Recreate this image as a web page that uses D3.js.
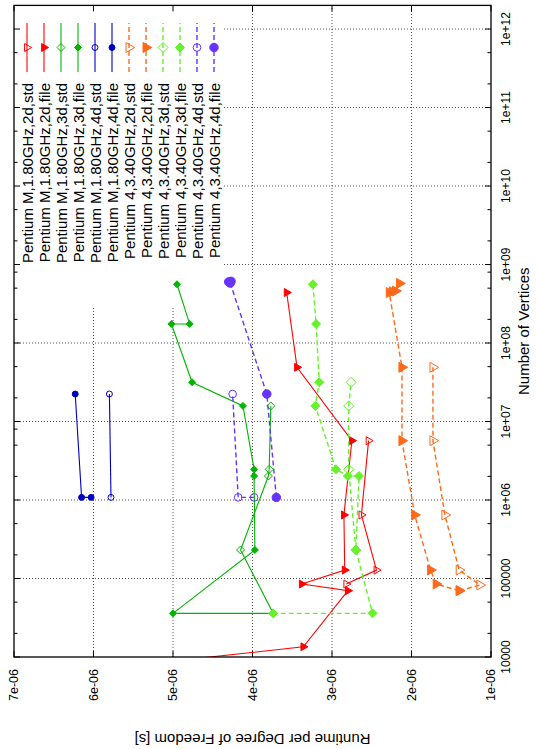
<!DOCTYPE html>
<html><head><meta charset="utf-8">
<script src="https://cdn.jsdelivr.net/npm/d3@7"></script>
<style>body{margin:0;background:#fff}svg{display:block}</style>
</head><body>
<svg id="c" width="536" height="749"></svg>
<script>
// ---------- data ----------
const seriesNames = [
  "Pentium M,1.80GHz,2d,std","Pentium M,1.80GHz,2d,file",
  "Pentium M,1.80GHz,3d,std","Pentium M,1.80GHz,3d,file",
  "Pentium M,1.80GHz,4d,std","Pentium M,1.80GHz,4d,file",
  "Pentium 4,3.40GHz,2d,std","Pentium 4,3.40GHz,2d,file",
  "Pentium 4,3.40GHz,3d,std","Pentium 4,3.40GHz,3d,file",
  "Pentium 4,3.40GHz,4d,std","Pentium 4,3.40GHz,4d,file"];
const seriesColors = ["#ff0000","#ff0000","#00b400","#00b400","#0000c0","#0000c0",
  "#ff6a1a","#ff6a1a","#66f22a","#66f22a","#6633ff","#6633ff"];
const seriesDashed = [false,false,false,false,false,false,true,true,true,true,true,true];
const seriesSymbols = ["triOpen","triFill","diaOpen","diaFill","cirOpen","cirFill",
  "triOpen","triFill","diaOpen","diaFill","cirOpen","cirFill"];
const seriesSizes = [4,4,4,3.5,3.5,3.5, 5,5,5,4.5,4.5,5];

const pm2dStdV = [85000,128000,645000,5.7e6];
const pm2dStdR = [2.82e-6,2.44e-6,2.63e-6,2.54e-6];
const pm2dFileV = [4225,13500,70000,85000,128000,645000,5.7e6,4.9e7,4.4e8];
const pm2dFileR = [7.9e-6,3.36e-6,2.80e-6,3.38e-6,2.84e-6,2.85e-6,2.75e-6,3.44e-6,3.57e-6];
const pm3dStdV = [36000,231000,2.02e6,2.46e6,1.58e7];
const pm3dStdR = [3.74e-6,4.15e-6,3.80e-6,3.79e-6,3.77e-6];
const pm3dFileV = [36000,36000,231000,2.02e6,2.46e6,1.58e7,3.16e7,1.75e8,1.75e8,5.6e8];
const pm3dFileR = [3.74e-6,5.00e-6,3.97e-6,3.98e-6,3.98e-6,4.12e-6,4.76e-6,5.02e-6,4.79e-6,4.95e-6];
const pm4dStdV = [1.08e6,2.24e7];
const pm4dStdR = [5.78e-6,5.80e-6];
const pm4dFileV = [1.08e6,1.08e6,2.24e7];
const pm4dFileR = [6.03e-6,6.15e-6,6.23e-6];
const p42dStdV = [70000,82600,128000,645000,5.7e6,4.9e7];
const p42dStdR = [1.40e-6,1.14e-6,1.40e-6,1.58e-6,1.73e-6,1.73e-6];
const p42dFileV = [70000,85000,128000,645000,5.7e6,4.9e7,4.4e8,4.5e8,4.6e8,5.75e8];
const p42dFileR = [1.40e-6,1.69e-6,1.76e-6,1.96e-6,2.12e-6,2.12e-6,2.28e-6,2.24e-6,2.20e-6,2.15e-6];
const p43dStdV = [231000,2.46e6,1.58e7,3.16e7];
const p43dStdR = [2.70e-6,2.79e-6,2.79e-6,2.76e-6];
const p43dFileV = [5.6e8,1.75e8,3.16e7,1.58e7,2.46e6,2.02e6,2.02e6,231000,36000,36000];
const p43dFileR = [3.24e-6,3.20e-6,3.16e-6,3.21e-6,2.95e-6,2.80e-6,2.66e-6,2.70e-6,2.49e-6,3.74e-6];
const p44dStdV = [1.08e6,1.08e6,2.24e7];
const p44dStdR = [3.98e-6,4.18e-6,4.25e-6];
const p44dFileV = [1.08e6,2.24e7,5.8e8,6.0e8,6.1e8];
const p44dFileR = [3.70e-6,3.82e-6,4.28e-6,4.30e-6,4.27e-6];

const seriesV = [pm2dStdV,pm2dFileV,pm3dStdV,pm3dFileV,pm4dStdV,pm4dFileV,
                 p42dStdV,p42dFileV,p43dStdV,p43dFileV,p44dStdV,p44dFileV];
const seriesR = [pm2dStdR,pm2dFileR,pm3dStdR,pm3dFileR,pm4dStdR,pm4dFileR,
                 p42dStdR,p42dFileR,p43dStdR,p43dFileR,p44dStdR,p44dFileR];

const vertexTicks = [1e4,1e5,1e6,1e7,1e8,1e9,1e10,1e11,1e12];
const vertexTickLabels = ["10000","100000","1e+06","1e+07","1e+08","1e+09","1e+10","1e+11","1e+12"];
const vertexExtraTicks = [8e6, 8e8];
const runtimeTicks = [7e-6,6e-6,5e-6,4e-6,3e-6,2e-6,1e-6];
const runtimeTickLabels = ["7e-06","6e-06","5e-06","4e-06","3e-06","2e-06","1e-06"];

// ---------- layout (unrotated gnuplot frame, then rotated -90deg) ----------
const W = 749, H = 536;
const plotL = 92, plotR = 743.6, plotT = 14, plotB = 491;
const FONT = "'Liberation Sans', Arial, Helvetica, sans-serif";
const x = d3.scaleLog().domain([1e4, 2e12]).range([plotL, plotR]);
const y = d3.scaleLinear().domain([1e-6, 7e-6]).range([plotB, plotT]);

const svg = d3.select("#c");
svg.append("rect").attr("width",536).attr("height",749).attr("fill","#fff");
const g = svg.append("g").attr("transform", `translate(0,${W}) rotate(-90)`);

g.append("defs").append("clipPath").attr("id","clip")
  .append("rect").attr("x",plotL).attr("y",plotT).attr("width",plotR-plotL).attr("height",plotB-plotT);

// grid
const gridG = g.append("g").attr("stroke","#555").attr("stroke-width",1).attr("stroke-dasharray","1,2");
vertexTicks.slice(1).forEach(v => {
  gridG.append("line").attr("x1",x(v)).attr("x2",x(v)).attr("y1",plotT).attr("y2",plotB);
});
runtimeTicks.slice(0,-1).slice(1).forEach(r => {
  gridG.append("line").attr("x1",plotL).attr("x2",plotR).attr("y1",y(r)).attr("y2",y(r));
});
// key area blanks the grid
g.append("rect").attr("x",441).attr("y",plotT+0.5).attr("width",plotR-441-0.5).attr("height",223-plotT).attr("fill","#fff");

// ticks
const tickG = g.append("g").attr("stroke","#000").attr("stroke-width",1);
const minorTicks = [];
for (let d = 4; d < 12; d++) { minorTicks.push(2*Math.pow(10,d), 5*Math.pow(10,d)); }
vertexExtraTicks.forEach(v => minorTicks.push(v));
vertexTicks.forEach(v => {
  tickG.append("line").attr("x1",x(v)).attr("x2",x(v)).attr("y1",plotB).attr("y2",plotB-6);
  tickG.append("line").attr("x1",x(v)).attr("x2",x(v)).attr("y1",plotT).attr("y2",plotT+6);
});
minorTicks.forEach(v => {
  tickG.append("line").attr("x1",x(v)).attr("x2",x(v)).attr("y1",plotB).attr("y2",plotB-3.5);
  tickG.append("line").attr("x1",x(v)).attr("x2",x(v)).attr("y1",plotT).attr("y2",plotT+3.5);
});
runtimeTicks.forEach(r => {
  tickG.append("line").attr("x1",plotL).attr("x2",plotL+6).attr("y1",y(r)).attr("y2",y(r));
  tickG.append("line").attr("x1",plotR).attr("x2",plotR-6).attr("y1",y(r)).attr("y2",y(r));
});

// tick labels
vertexTicks.forEach((v,i) => {
  g.append("text").attr("x",x(v)).attr("y",506).attr("text-anchor","middle")
   .attr("dominant-baseline","central").attr("font-family",FONT).attr("font-size",12)
   .text(vertexTickLabels[i]);
});
runtimeTicks.forEach((r,i) => {
  g.append("text").attr("x",80).attr("y",y(r)).attr("text-anchor","end")
   .attr("dominant-baseline","central").attr("font-family",FONT).attr("font-size",12.5)
   .text(runtimeTickLabels[i]);
});
// axis titles
g.append("text").attr("x",(plotL+plotR)/2).attr("y",523).attr("text-anchor","middle")
  .attr("dominant-baseline","central").attr("font-family",FONT).attr("font-size",15)
  .text("Number of Vertices");
g.append("text").attr("transform",`translate(10,${(plotT+plotB)/2}) rotate(-90)`)
  .attr("text-anchor","middle").attr("dominant-baseline","central")
  .attr("font-family",FONT).attr("font-size",15)
  .text("Runtime per Degree of Freedom [s]");

// markers (triangles point down in the unrotated frame)
function drawSymbol(sel, type, cx, cy, s, color) {
  const filled = type.endsWith("Fill");
  let el;
  if (type.startsWith("tri")) {
    el = sel.append("path").attr("d",`M${cx},${cy+s*1.15}L${cx+s},${cy-s*0.6}L${cx-s},${cy-s*0.6}Z`);
  } else if (type.startsWith("dia")) {
    el = sel.append("path").attr("d",`M${cx},${cy-s}L${cx+s},${cy}L${cx},${cy+s}L${cx-s},${cy}Z`);
  } else {
    el = sel.append("circle").attr("cx",cx).attr("cy",cy).attr("r",s*0.85);
  }
  el.attr("fill", filled ? color : "none").attr("stroke",color).attr("stroke-width",1);
}

const dataG = g.append("g").attr("clip-path","url(#clip)");
const line = d3.line().x(d => x(d[0])).y(d => y(d[1]));
seriesNames.forEach((name,i) => {
  const pts = seriesV[i].map((v,k) => [v, seriesR[i][k]]);
  dataG.append("path").attr("d", line(pts)).attr("fill","none")
    .attr("stroke", seriesColors[i]).attr("stroke-width", seriesDashed[i] ? 1.4 : 1.1)
    .attr("stroke-dasharray", seriesDashed[i] ? "5,3" : null);
  pts.forEach(p => {
    if (p[0] >= 1e4 && p[1] <= 7e-6) drawSymbol(dataG, seriesSymbols[i], x(p[0]), y(p[1]), seriesSizes[i], seriesColors[i]);
  });
});

// key
seriesNames.forEach((name,i) => {
  const ky = 27 + 17*i;
  g.append("text").attr("x",666).attr("y",ky).attr("text-anchor","end")
   .attr("dominant-baseline","central").attr("font-family",FONT).attr("font-size",15).text(name);
  g.append("line").attr("x1",677).attr("x2",726).attr("y1",ky).attr("y2",ky)
   .attr("stroke",seriesColors[i]).attr("stroke-width", seriesDashed[i] ? 1.4 : 1.1)
   .attr("stroke-dasharray", seriesDashed[i] ? "5,3" : null);
  drawSymbol(g, seriesSymbols[i], 701.5, ky, seriesSizes[i], seriesColors[i]);
});

// frame
g.append("rect").attr("x",plotL).attr("y",plotT).attr("width",plotR-plotL).attr("height",plotB-plotT)
  .attr("fill","none").attr("stroke","#000").attr("stroke-width",1.3);
</script></body></html>
